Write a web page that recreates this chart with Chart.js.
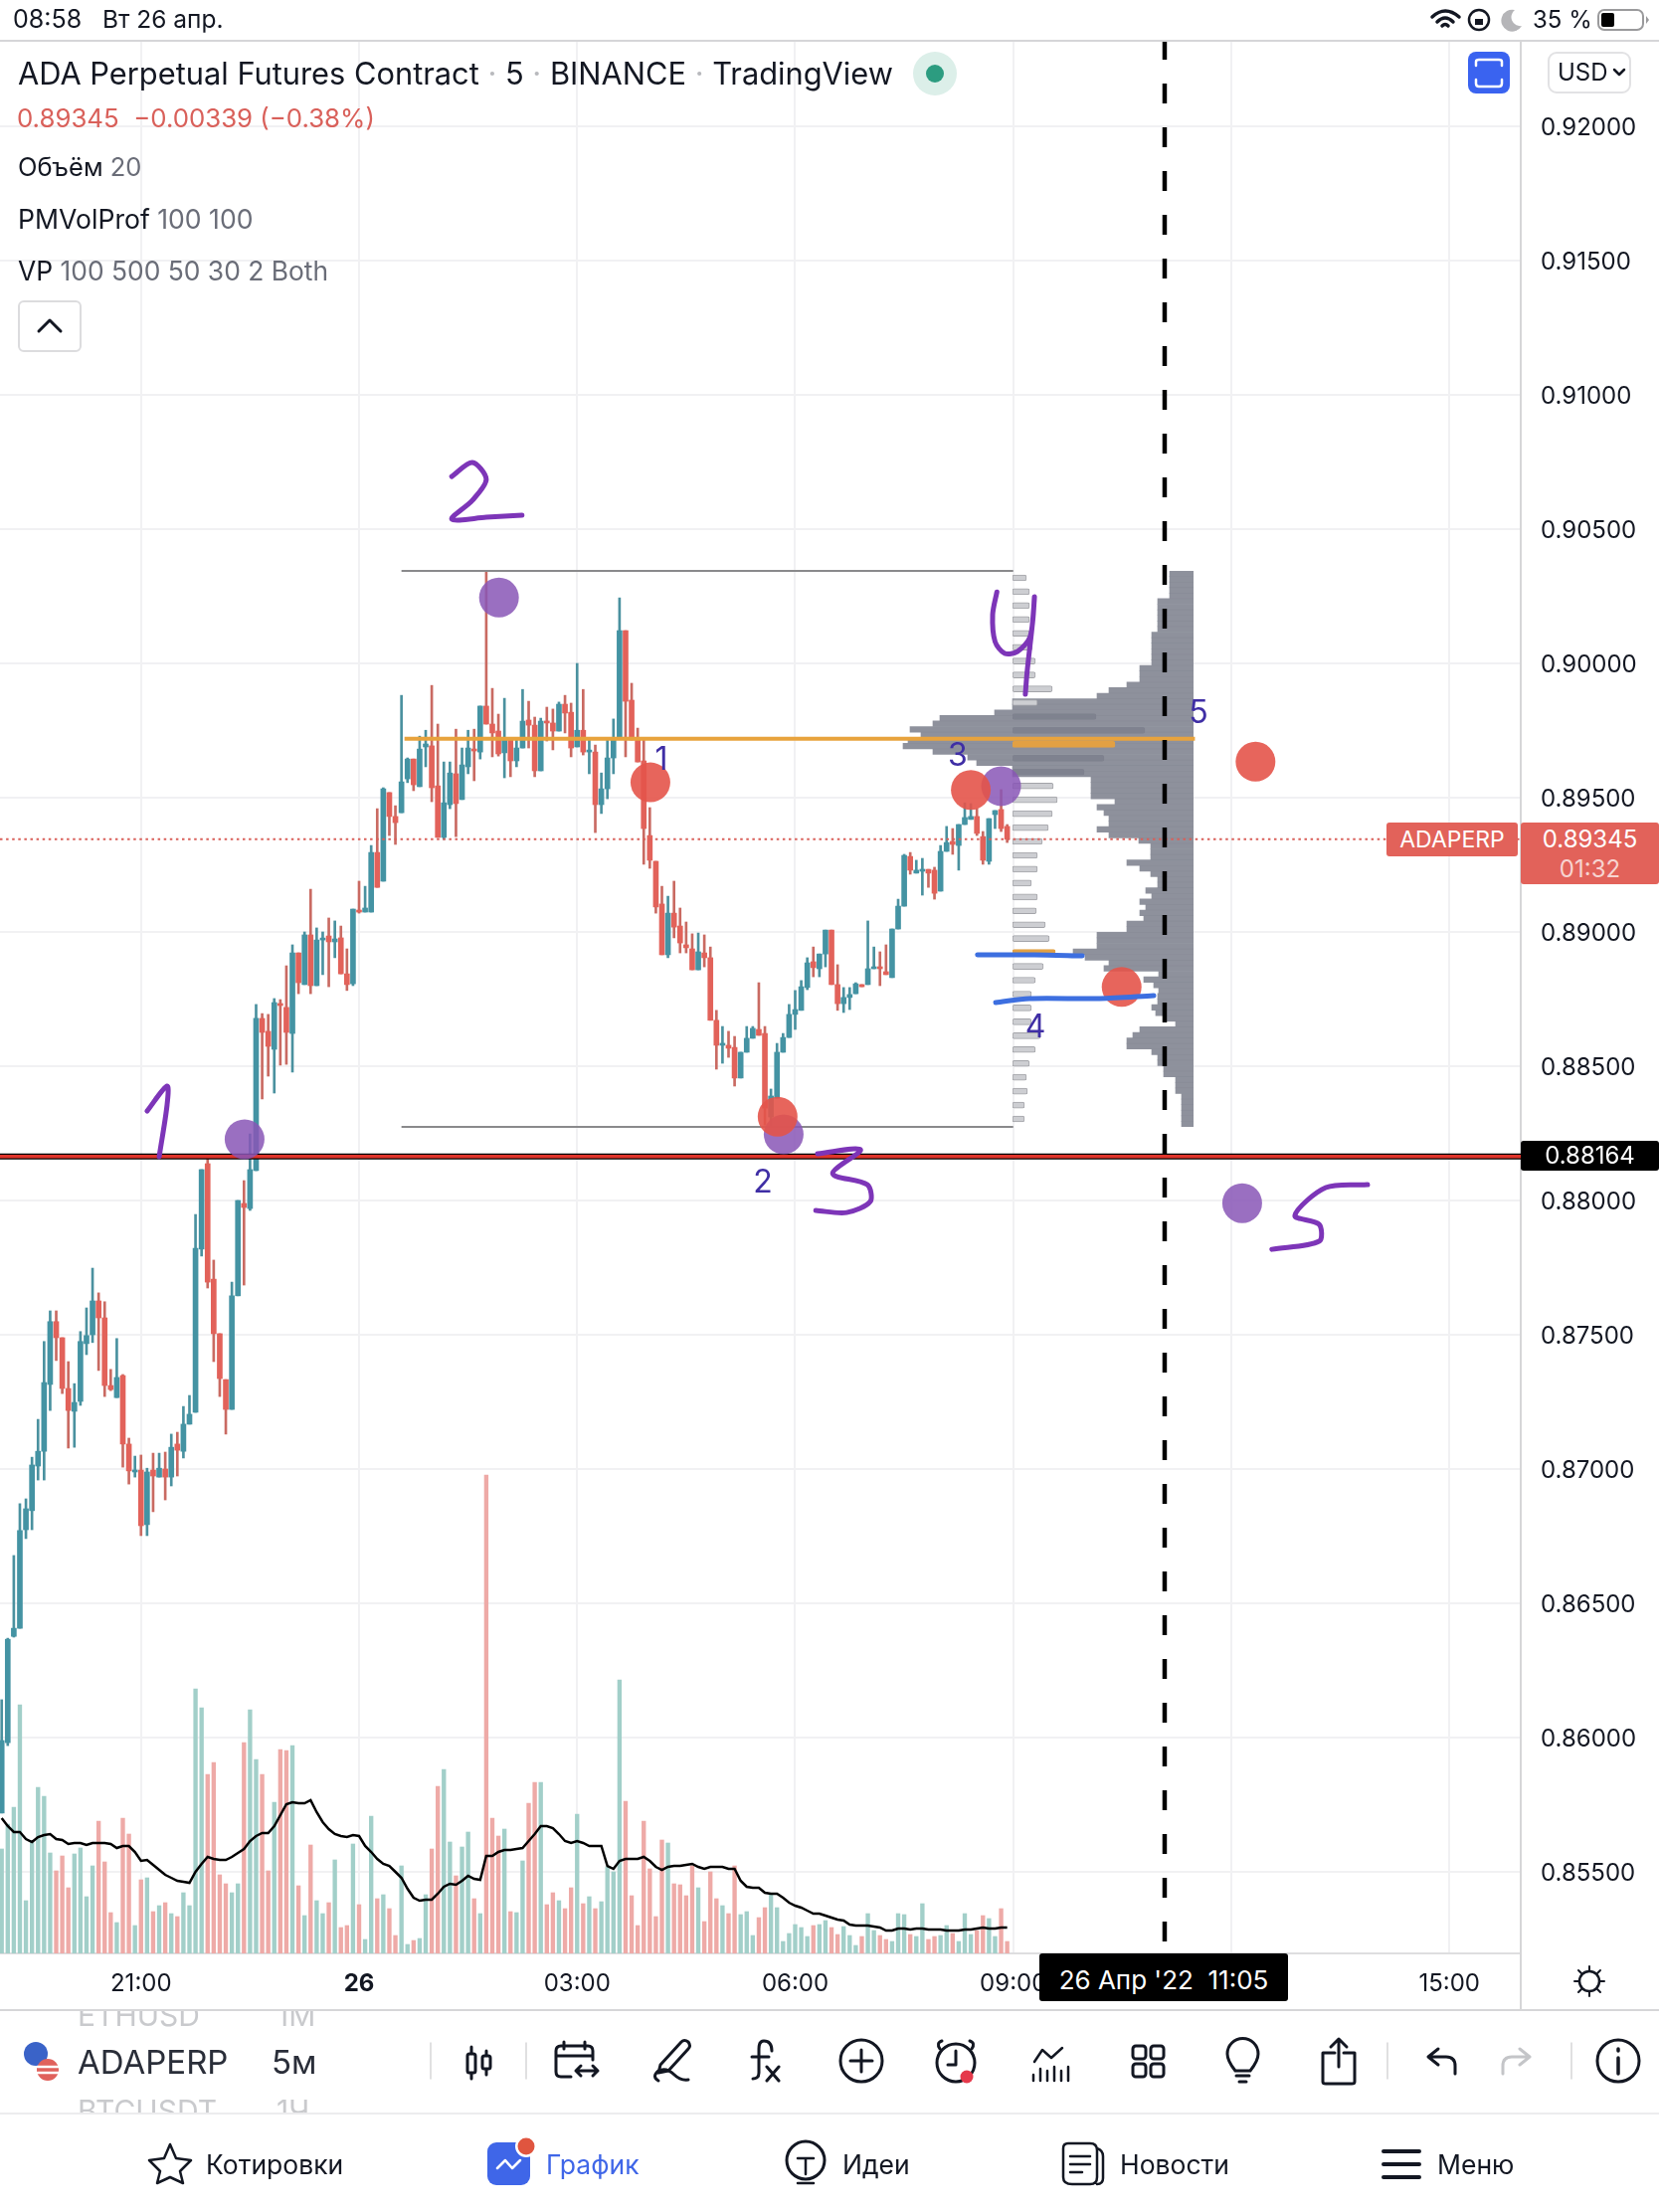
<!DOCTYPE html>
<html>
<head>
<meta charset="utf-8">
<title>ADAPERP</title>
<script src="https://cdn.jsdelivr.net/npm/chart.js@4/dist/chart.umd.js"></script>
<style>
html, body { margin: 0; padding: 0; background: #fff; }
#page { position: relative; width: 1668px; height: 2224px; overflow: hidden; font-family: Inter, "Noto Sans", sans-serif; color: #131722; }
canvas { position: absolute; display: block; }
.t { position: absolute; white-space: nowrap; transform: translateY(-50%); line-height: 1; }
.g { color: #6a6d78; }
.hl { position: absolute; left: 0; width: 1668px; height: 2px; background: #d6d6d8; }
.num { position: absolute; white-space: nowrap; transform: translate(-50%, -50%); font-size: 32px; line-height: 1; color: #3f2ea5; }
.tag { position: absolute; color: #fff; text-align: center; border-radius: 3px; }
svg { position: absolute; left: 0; top: 0; }
.fade { position: absolute; left: 0; width: 433px; height: 22px; overflow: hidden; color: #c9cacd; font-size: 30px; }
</style>
</head>
<body>
<div id="page">
<canvas id="main" width="1668" height="2224" style="left:0;top:0"></canvas>
<canvas id="profile" width="1200" height="559" style="left:0;top:574px"></canvas>
<canvas id="pills" width="160" height="558" style="left:1018px;top:574px"></canvas>
<canvas id="marks" width="1529" height="1923" style="left:0;top:41px"></canvas>

<div class="hl" style="top:40px"></div>
<div class="t" style="left:13px;top:19px;font-size:25px">08:58</div>
<div class="t" style="left:103px;top:19px;font-size:24.5px">Вт 26 апр.</div>
<div class="t" style="left:1541px;top:20px;font-size:24px">35 %</div>

<div class="t" style="left:18px;top:74px;font-size:30.8px">ADA Perpetual Futures Contract<span style="color:#b8b9bd"> · </span>5<span style="color:#b8b9bd"> · </span>BINANCE<span style="color:#b8b9bd"> · </span>TradingView</div>
<div class="t" style="left:17px;top:119px;font-size:25.8px;color:#d9605a">0.89345&nbsp; −0.00339 (−0.38%)</div>
<div class="t" style="left:18px;top:168px;font-size:25.5px">Объём <span class="g">20</span></div>
<div class="t" style="left:18px;top:220px;font-size:26.6px">PMVolProf <span class="g">100 100</span></div>
<div class="t" style="left:18px;top:272px;font-size:26.4px">VP <span class="g">100 500 50 30 2 Both</span></div>

<div class="t" style="left:1566px;top:73px;font-size:24px">USD</div>

<div class="num" style="left:665px;top:763px">1</div>
<div class="num" style="left:767px;top:1188px">2</div>
<div class="num" style="left:963px;top:759px">3</div>
<div class="num" style="left:1041px;top:1032px">4</div>
<div class="num" style="left:1205px;top:716px">5</div>

<div class="tag" style="left:1394px;top:827px;width:132px;height:34px;line-height:34px;background:#e2625a;font-size:23px">ADAPERP</div>
<div class="tag" style="left:1529px;top:827px;width:139px;height:62px;background:#e2625a;font-size:24px;line-height:30px"><div style="margin-top:2px">0.89345</div><div style="color:#f7d4d1">01:32</div></div>
<div class="tag" style="left:1529px;top:1147px;width:139px;height:30px;line-height:30px;background:#000;font-size:24px">0.88164</div>
<div class="tag" style="left:1045px;top:1964px;width:250px;height:48px;line-height:54px;background:#000;font-size:26px">26 Апр '22 &nbsp;11:05</div>

<div class="hl" style="top:2020px"></div>
<div class="fade" style="top:2022px"><span style="position:absolute;left:78px;top:-14px">ETHUSD</span><span style="position:absolute;left:278px;top:-14px">1М</span></div>
<div class="t" style="left:78px;top:2073px;font-size:33px;color:#2a2e39">ADAPERP</div>
<div class="t" style="left:273px;top:2073px;font-size:33px;color:#2a2e39">5м</div>
<div class="fade" style="top:2102px"><span style="position:absolute;left:78px;top:2px">BTCUSDT</span><span style="position:absolute;left:278px;top:2px">1Ч</span></div>
<div class="hl" style="top:2124px;background:#ececee"></div>

<div class="t" style="left:207px;top:2176px;font-size:26.5px">Котировки</div>
<div class="t" style="left:549px;top:2176px;font-size:26.5px;color:#3f66e8">График</div>
<div class="t" style="left:847px;top:2176px;font-size:26.5px">Идеи</div>
<div class="t" style="left:1126px;top:2176px;font-size:26.5px">Новости</div>
<div class="t" style="left:1445px;top:2176px;font-size:26.5px">Меню</div>

<svg width="1668" height="2224" fill="none" stroke="#131722" stroke-width="3" stroke-linecap="round" stroke-linejoin="round">
  <!-- status bar -->
  <path d="M1440 17 Q1453 5 1467 17 M1445 22 Q1453 14 1461 22 M1450 26 Q1453 23 1456 26" stroke-width="3.5"/>
  <circle cx="1487" cy="20" r="10" stroke-width="2.5"/>
  <rect x="1483" y="19" width="8" height="6" fill="#131722" stroke="none"/>
  <path d="M1530 26 A11 11 0 1 1 1523 10 A9 9 0 0 0 1530 26 Z" fill="#b5b5b8" stroke="none"/>
  <rect x="1607" y="10" width="45" height="20" rx="6" stroke="#9a9a9c" stroke-width="2"/>
  <rect x="1610" y="13" width="13" height="14" rx="2" fill="#000" stroke="none"/>
  <path d="M1655 16 L1658 20 L1655 24 Z" fill="#9a9a9c" stroke="none"/>
  <!-- header controls -->
  <circle cx="940" cy="74" r="22" fill="#dcefe9" stroke="none"/>
  <circle cx="940" cy="74" r="9" fill="#2c9c80" stroke="none"/>
  <rect x="1476" y="52" width="42" height="42" rx="8" fill="#3a63f0" stroke="none"/>
  <path d="M1484 66 V62 Q1484 60 1487 60 H1507 Q1510 60 1510 62 V66 M1484 80 V84 Q1484 87 1487 87 H1507 Q1510 87 1510 84 V80" stroke="#fff" stroke-width="2.5"/>
  <rect x="1557" y="53" width="82" height="40" rx="8" stroke="#e2e2e4" stroke-width="2"/>
  <path d="M1623 70 L1628 75 L1633 70" stroke-width="2.5"/>
  <rect x="19" y="303" width="62" height="50" rx="5" stroke="#dcdcde" stroke-width="2"/>
  <path d="M39 333 L50 322 L61 333" stroke-width="3"/>
  <!-- axis corner -->
  <path d="M1529 1964 V2020" stroke="#d6d6d8" stroke-width="2"/>
  <circle cx="1598" cy="1992" r="10" stroke-width="2.5"/>
  <path d="M1598 1977 V1981 M1598 2003 V2007 M1583 1992 H1587 M1609 1992 H1613 M1587 1981 L1590 1984 M1609 1981 L1606 1984 M1587 2003 L1590 2000 M1609 2003 L1606 2000" stroke-width="2"/>
  <!-- ticker logo -->
  <circle cx="36" cy="2065" r="12" fill="#3a63c8" stroke="none"/>
  <circle cx="48" cy="2081" r="11" fill="#e0615c" stroke="none"/>
  <path d="M38 2078 H59 M38 2084 H59" stroke="#fff" stroke-width="2.5"/>
  <!-- toolbar -->
  <path d="M433 2054 V2090 M529 2054 V2090 M1395 2054 V2090 M1580 2054 V2090" stroke="#d6d6d8" stroke-width="1.5"/>
  <path d="M474 2058 V2090 M489 2062 V2086"/>
  <rect x="470" y="2065" width="8" height="19" rx="2" fill="#fff"/>
  <rect x="485" y="2067" width="8" height="13" rx="2" fill="#fff"/>
  <path d="M574 2088 H564 Q559 2088 559 2083 V2062 Q559 2057 564 2057 H591 Q596 2057 596 2062 V2071 M559 2067 H596 M567 2053 V2060 M588 2053 V2060 M579 2082 H601 M584 2077 L579 2082 L584 2087 M596 2077 L601 2082 L596 2087"/>
  <path d="M664 2076 L685 2053 Q688 2050 692 2053 Q695 2057 692 2060 L672 2082 L662 2084 Z M662 2092 Q655 2088 662 2082 Q670 2078 678 2086 Q684 2092 692 2091"/>
  <path d="M776 2062 Q776 2052 768 2052 Q763 2052 763 2060 V2084 Q763 2090 757 2090 M756 2068 H773 M771 2078 L783 2092 M783 2078 L771 2092"/>
  <circle cx="866" cy="2072" r="21"/>
  <path d="M855 2072 H877 M866 2061 V2083"/>
  <circle cx="961" cy="2074" r="19"/>
  <path d="M961 2062 V2076 H953 M945 2060 Q941 2054 947 2052 M977 2060 Q981 2054 975 2052"/>
  <circle cx="972" cy="2088" r="6.5" fill="#e5394b" stroke="none"/>
  <path d="M1040 2073 L1048 2061 L1057 2069 L1068 2059 M1039 2092 V2086 M1046 2092 V2080 M1053 2092 V2082 M1060 2092 V2078 M1067 2092 V2082 M1074 2092 V2078" stroke-width="2.5"/>
  <rect x="1139" y="2057" width="13" height="13" rx="3"/><rect x="1157" y="2057" width="13" height="13" rx="3"/>
  <rect x="1139" y="2075" width="13" height="13" rx="3"/><rect x="1157" y="2075" width="13" height="13" rx="3"/>
  <path d="M1242 2082 Q1234 2072 1234 2065 A15.5 15.5 0 0 1 1265 2065 Q1265 2072 1257 2082 Z M1243 2087 H1256 M1246 2093 H1253"/>
  <path d="M1342 2064 H1330 V2093 Q1330 2095 1333 2095 H1359 Q1362 2095 1362 2093 V2064 H1351 M1346 2078 V2050 M1338 2058 L1346 2050 L1354 2058"/>
  <path d="M1463 2085 V2077 Q1463 2068 1454 2068 H1436 M1446 2060 L1436 2068 L1446 2076"/>
  <path d="M1511 2085 V2077 Q1511 2068 1520 2068 H1538 M1528 2060 L1538 2068 L1528 2076" stroke="#c4c5c8"/>
  <circle cx="1627" cy="2072" r="21"/>
  <path d="M1627 2069 V2085 M1627 2060 V2062" stroke-width="3.5"/>
  <!-- tab bar -->
  <path d="M171 2156 L177 2170 L192 2172 L181 2183 L184 2195 L171 2189 L158 2195 L161 2183 L150 2172 L165 2170 Z" stroke-width="2.5"/>
  <rect x="490" y="2154" width="43" height="43" rx="9" fill="#3f66e8" stroke="none"/>
  <path d="M500 2180 L508 2172 L515 2180 L523 2172" stroke="#fff" stroke-width="2.5"/>
  <circle cx="529" cy="2158" r="11" fill="#fff" stroke="none"/>
  <circle cx="529" cy="2158" r="8.5" fill="#e0553f" stroke="none"/>
  <circle cx="810" cy="2172" r="19"/>
  <path d="M802 2170 H818 M810 2170 V2186 M802 2195 H818" stroke-width="2.5"/>
  <path d="M1074 2155 H1096 Q1103 2155 1103 2162 V2189 Q1103 2196 1096 2196 H1078 Q1069 2196 1069 2189 V2160 Q1069 2155 1074 2155 Z M1103 2160 Q1109 2162 1109 2168 V2190 Q1109 2196 1103 2196 M1076 2168 H1096 M1076 2176 H1096 M1076 2184 H1088" stroke-width="2.5"/>
  <path d="M1391 2163 H1427 M1391 2176 H1427 M1391 2189 H1427" stroke-width="4"/>
</svg>
</div>

<script>
// OHLC values, one entry per 5 minute bar
var opens = [0.85719,0.85981,0.86377,0.86407,0.86774,0.86845,0.87011,0.87066,0.87315,0.87549,
  0.87489,0.87300,0.87215,0.87252,0.87467,0.87500,0.87626,0.87563,0.87311,0.87266,
  0.87348,0.87093,0.86989,0.86996,0.86793,0.86996,0.86970,0.87000,0.86970,0.87093,
  0.87066,0.87167,0.87211,0.87819,0.88137,0.87707,0.87504,0.87333,0.87222,0.87645,
  0.87989,0.87970,0.88111,0.88678,0.88630,0.88563,0.88733,0.88719,0.88622,0.88922,
  0.88804,0.88989,0.88800,0.88970,0.88985,0.88963,0.88978,0.88844,0.88807,0.89081,
  0.89074,0.89074,0.89296,0.89189,0.89519,0.89430,0.89444,0.89570,0.89644,0.89541,
  0.89689,0.89693,0.89544,0.89352,0.89474,0.89589,0.89493,0.89615,0.89678,0.89670,
  0.89841,0.89774,0.89748,0.89667,0.89722,0.89637,0.89685,0.89789,0.89770,0.89600,
  0.89785,0.89778,0.89748,0.89848,0.89818,0.89689,0.89751,0.89670,0.89670,0.89474,
  0.89533,0.89648,0.89718,0.90122,0.89863,0.89715,0.89637,0.89359,0.89263,0.89104,
  0.88915,0.89070,0.89022,0.88952,0.88937,0.88859,0.88922,0.88904,0.88671,0.88578,
  0.88578,0.88570,0.88456,0.88552,0.88604,0.88637,0.88622,0.88311,0.88381,0.88552,
  0.88607,0.88693,0.88708,0.88793,0.88889,0.88863,0.88918,0.89007,0.88804,0.88733,
  0.88756,0.88770,0.88804,0.88804,0.88863,0.88870,0.88852,0.88830,0.89011,0.89096,
  0.89281,0.89219,0.89226,0.89233,0.89230,0.89152,0.89300,0.89337,0.89322,0.89400,
  0.89419,0.89430,0.89355,0.89263,0.89437,0.89456,0.89393];
var highs = [0.86141,0.86370,0.86678,0.86871,0.86889,0.87044,0.87185,0.87475,0.87589,0.87589,
  0.87489,0.87400,0.87318,0.87512,0.87600,0.87748,0.87656,0.87623,0.87371,0.87486,
  0.87352,0.87115,0.87048,0.87052,0.87003,0.87059,0.87059,0.87063,0.87130,0.87137,
  0.87233,0.87274,0.87948,0.88115,0.88170,0.87778,0.87504,0.87333,0.87696,0.88000,
  0.88074,0.88248,0.88730,0.88696,0.88693,0.88752,0.88748,0.88874,0.88952,0.88922,
  0.89000,0.89159,0.89015,0.89000,0.89052,0.89041,0.89022,0.88937,0.89085,0.89189,
  0.89170,0.89322,0.89459,0.89537,0.89519,0.89470,0.89881,0.89648,0.89644,0.89729,
  0.89751,0.89918,0.89774,0.89633,0.89633,0.89755,0.89685,0.89751,0.89755,0.89841,
  0.90344,0.89907,0.89811,0.89870,0.89722,0.89722,0.89903,0.89859,0.89800,0.89796,
  0.89837,0.89830,0.89856,0.89881,0.89852,0.90000,0.89903,0.89718,0.89696,0.89592,
  0.89715,0.89793,0.90244,0.90122,0.89926,0.89759,0.89718,0.89463,0.89263,0.89170,
  0.89133,0.89189,0.89089,0.89037,0.88993,0.88996,0.88989,0.88944,0.88708,0.88648,
  0.88630,0.88611,0.88552,0.88648,0.88648,0.88811,0.88648,0.88415,0.88585,0.88622,
  0.88730,0.88782,0.88819,0.88904,0.88944,0.88918,0.89007,0.89007,0.88878,0.88793,
  0.88793,0.88811,0.88804,0.89041,0.88944,0.88926,0.88952,0.89011,0.89122,0.89289,
  0.89296,0.89267,0.89274,0.89233,0.89241,0.89322,0.89393,0.89385,0.89400,0.89481,
  0.89478,0.89459,0.89374,0.89422,0.89452,0.89530,0.89400];
var lows = [0.85719,0.85970,0.86374,0.86407,0.86741,0.86774,0.86959,0.86959,0.87218,0.87404,
  0.87281,0.87078,0.87081,0.87237,0.87426,0.87471,0.87367,0.87270,0.87292,0.87266,
  0.87007,0.86944,0.86970,0.86752,0.86752,0.86841,0.86970,0.86885,0.86937,0.86974,
  0.87041,0.87167,0.87211,0.87793,0.87674,0.87400,0.87270,0.87130,0.87222,0.87645,
  0.87685,0.87963,0.88111,0.88378,0.88463,0.88400,0.88504,0.88507,0.88478,0.88770,
  0.88804,0.88770,0.88800,0.88841,0.88796,0.88904,0.88844,0.88782,0.88800,0.89070,
  0.89074,0.89074,0.89166,0.89189,0.89359,0.89326,0.89444,0.89556,0.89526,0.89541,
  0.89615,0.89485,0.89352,0.89344,0.89459,0.89355,0.89493,0.89589,0.89563,0.89644,
  0.89774,0.89652,0.89655,0.89574,0.89578,0.89615,0.89685,0.89685,0.89578,0.89600,
  0.89711,0.89678,0.89748,0.89741,0.89652,0.89689,0.89659,0.89589,0.89370,0.89441,
  0.89496,0.89589,0.89718,0.89652,0.89715,0.89633,0.89252,0.89237,0.89070,0.88915,
  0.88904,0.88978,0.88922,0.88922,0.88859,0.88859,0.88870,0.88671,0.88489,0.88511,
  0.88533,0.88426,0.88456,0.88552,0.88604,0.88615,0.88281,0.88274,0.88381,0.88552,
  0.88607,0.88637,0.88708,0.88785,0.88833,0.88833,0.88870,0.88804,0.88708,0.88700,
  0.88711,0.88770,0.88796,0.88804,0.88863,0.88800,0.88841,0.88830,0.89011,0.89096,
  0.89215,0.89219,0.89137,0.89166,0.89122,0.89152,0.89300,0.89289,0.89230,0.89400,
  0.89419,0.89359,0.89252,0.89252,0.89385,0.89374,0.89333];
var closes = [0.85989,0.86366,0.86407,0.86771,0.86852,0.87015,0.87066,0.87322,0.87549,0.87489,
  0.87300,0.87218,0.87248,0.87475,0.87497,0.87626,0.87563,0.87311,0.87296,0.87341,
  0.87093,0.86993,0.86993,0.86789,0.86989,0.86974,0.87003,0.86970,0.87081,0.87070,
  0.87167,0.87204,0.87822,0.88115,0.87696,0.87504,0.87337,0.87222,0.87645,0.88000,
  0.87974,0.88115,0.88678,0.88626,0.88574,0.88737,0.88726,0.88626,0.88922,0.88811,
  0.88989,0.88800,0.88970,0.88974,0.88963,0.88974,0.88844,0.88804,0.89085,0.89074,
  0.89089,0.89296,0.89166,0.89533,0.89430,0.89407,0.89559,0.89644,0.89548,0.89681,
  0.89700,0.89537,0.89352,0.89481,0.89592,0.89478,0.89622,0.89685,0.89674,0.89841,
  0.89774,0.89741,0.89663,0.89722,0.89637,0.89685,0.89785,0.89770,0.89600,0.89785,
  0.89778,0.89748,0.89848,0.89815,0.89685,0.89751,0.89670,0.89674,0.89474,0.89533,
  0.89648,0.89718,0.90122,0.89859,0.89715,0.89633,0.89385,0.89267,0.89093,0.88915,
  0.89070,0.89018,0.88959,0.88941,0.88859,0.88926,0.88904,0.88671,0.88578,0.88582,
  0.88567,0.88456,0.88552,0.88604,0.88641,0.88615,0.88344,0.88389,0.88552,0.88607,
  0.88693,0.88711,0.88796,0.88885,0.88867,0.88918,0.89007,0.88804,0.88733,0.88756,
  0.88767,0.88807,0.88796,0.88863,0.88867,0.88863,0.88841,0.89011,0.89096,0.89285,
  0.89230,0.89230,0.89230,0.89219,0.89144,0.89300,0.89333,0.89326,0.89400,0.89426,
  0.89430,0.89367,0.89267,0.89422,0.89452,0.89385,0.89345];

var volumes = [105,130,147,250,53,112,167,158,101,83,
  98,66,100,106,57,88,133,92,41,31,
  136,120,28,74,76,42,48,51,40,37,
  61,48,266,247,180,192,79,70,61,70,
  212,245,195,180,83,152,205,204,209,68,
  38,109,53,40,51,94,26,28,110,49,
  14,138,55,59,45,18,88,9,13,15,
  59,105,168,185,112,78,107,122,55,40,
  481,136,118,125,42,41,93,151,172,172,
  49,61,53,45,66,140,50,57,45,52,
  87,82,275,153,58,28,133,85,37,114,
  111,70,69,58,88,66,32,82,55,48,
  40,88,39,42,18,36,46,60,46,12,
  20,29,26,17,28,29,33,26,19,27,
  18,8,17,40,23,18,14,12,40,39,
  19,17,50,14,17,18,28,20,12,40,
  19,23,38,35,17,45,12];
var volumeAverage = [136,128,122,122,115,112,117,119,120,115,
  114,110,111,111,109,111,111,111,110,106,
  108,108,102,93,94,89,84,79,76,73,
  72,71,82,90,97,95,94,94,97,101,
  105,113,118,121,121,128,139,150,152,151,
  151,154,142,132,125,120,118,117,119,118,
  108,102,95,90,88,82,76,65,56,53,
  54,54,60,67,70,69,73,78,75,74,
  98,98,102,104,104,105,106,113,120,128,
  128,126,120,113,111,113,111,108,108,108,
  88,85,93,95,95,95,97,93,87,84,
  87,88,88,89,90,87,85,87,87,87,
  85,85,73,67,66,66,61,60,60,56,
  51,48,46,43,40,40,38,36,34,33,
  29,28,28,28,27,26,23,23,25,25,
  24,25,25,24,24,24,23,23,23,24,
  24,25,26,25,25,26,26];

// VP rows from the top of the range down
var vpVolumes = [24,24,24,24,24,36,36,36,36,36,
  36,42,42,42,42,42,42,54,54,54,
  67,85,97,182,182,200,255,262,285,274,
  287,292,262,227,218,182,182,103,103,103,
  103,79,97,90,85,85,97,85,55,43,
  43,43,67,54,43,36,36,48,42,54,
  48,54,50,67,67,97,97,97,121,109,
  85,90,35,50,40,35,36,36,42,38,
  28,18,54,61,67,67,42,36,36,30,
  30,18,18,18,12,12,12,12,12,12];
// PMVolProf rows from the top of the range down
var pillVolumes = [14,17,17,17,17,20,23,23,40,25,
  84,133,103,92,72,41,45,40,36,30,
  25,25,19,25,24,33,37,43,31,23,
  19,19,19,28,23,17,14,15,12,12];
var pillDarkRows = [10,11,13,14];
var pillPocRows = [12,27];

var priceTicks = [0.92,0.915,0.91,0.905,0.9,0.895,0.89,0.885,0.88,0.875,0.87,0.865,0.86,0.855];
var priceTickLabels = ['0.92000','0.91500','0.91000','0.90500','0.90000','0.89500','0.89000','0.88500','0.88000','0.87500','0.87000','0.86500','0.86000','0.85500'];
var timeTicks = [23,59,95,131,167,203,239];
var timeTickLabels = ['21:00','26','03:00','06:00','09:00','','15:00'];

var lastPrice = 0.89345;
var linePrice = 0.88164;
var pocPrice = 0.89719;
var rangeHigh = 0.90344;
var rangeLow = 0.88274;
var cursorBar = 192;

var purpleDots = [{x:82.1,y:0.90245},{x:165,y:0.89543},{x:129.1,y:0.88246},{x:40.1,y:0.88228},{x:204.8,y:0.8799}];
var redDots = [{x:107.1,y:0.89557},{x:160,y:0.89529},{x:128.1,y:0.88312},{x:184.9,y:0.88795},{x:207,y:0.89634}];

var strokeOne = [{x:24,y:0.88333},{x:27.3,y:0.88426},{x:27.3,y:0.88355},{x:26,y:0.88163}];
var strokeTwo = [{x:74.3,y:0.90696},{x:77.7,y:0.90748},{x:80,y:0.90685},{x:77.7,y:0.90607},{x:74.3,y:0.90537},{x:80,y:0.90544},{x:85.9,y:0.90552}];
var strokeThree = [{x:134.7,y:0.88174},{x:141.8,y:0.88189},{x:137.2,y:0.881},{x:142.9,y:0.88059},{x:143.4,y:0.87996},{x:139.5,y:0.87955},{x:134.4,y:0.87963}];
var strokeFour = [{x:164.3,y:0.90266},{x:163.6,y:0.90181},{x:164,y:0.90081},{x:165.6,y:0.90037},{x:167.7,y:0.90044},{x:169.8,y:0.901},{x:170.5,y:0.90248},{x:170.2,y:0.90155},{x:169.3,y:0.8997},{x:169,y:0.89885}];
var strokeFive = [{x:225.5,y:0.88059},{x:218.6,y:0.88048},{x:213.5,y:0.87944},{x:217.5,y:0.87911},{x:217.5,y:0.87848},{x:209.7,y:0.87818}];
var blueTop = [{x:161.1,y:0.88915},{x:170.5,y:0.88915},{x:178.4,y:0.88911}];
var blueBottom = [{x:164.1,y:0.88737},{x:169.7,y:0.88752},{x:181.3,y:0.88752},{x:190.2,y:0.88763}];

var BAR_MIN = -0.28, BAR_MAX = 250.79;
var PRICE_MIN = 0.851963, PRICE_MAX = 0.923185;

var TEAL = '#4493a3', RED = '#e2625a';
var TEAL_WICK = '#4a919f', RED_WICK = '#c96a62';
var TEAL_VOL = '#a2cfc9', RED_VOL = '#eeaaa7';
var GRID = '#f1f1f3';

function isUp(i) { return closes[i] >= opens[i]; }

var wickData = opens.map(function (o, i) { return { x: i, y: [lows[i], highs[i]] }; });
var bodyData = opens.map(function (o, i) { return { x: i, y: [o, closes[i]] }; });
var volumeData = volumes.map(function (v, i) { return { x: i, y: v }; });
var averageData = volumeAverage.map(function (v, i) { return { x: i, y: v }; });

function pickColors(up, down) {
    return opens.map(function (o, i) { return isUp(i) ? up : down; });
}

Chart.defaults.animation = false;
Chart.defaults.font.family = 'Inter, "Noto Sans", sans-serif';

new Chart(document.getElementById('main'), {
    type: 'bar',
    data: {
        datasets: [
            { type: 'bar', data: bodyData, backgroundColor: pickColors(TEAL, RED), barThickness: 5, minBarLength: 2, grouped: false, order: 1, yAxisID: 'y' },
            { type: 'bar', data: wickData, backgroundColor: pickColors(TEAL_WICK, RED_WICK), barThickness: 2, grouped: false, order: 2, yAxisID: 'y' },
            { type: 'line', data: averageData, borderColor: '#000', borderWidth: 2.5, pointRadius: 0, tension: 0, order: 3, yAxisID: 'vol' },
            { type: 'bar', data: volumeData, backgroundColor: pickColors(TEAL_VOL, RED_VOL), barThickness: 3.7, grouped: false, order: 4, yAxisID: 'vol' }
        ]
    },
    options: {
        responsive: false,
        maintainAspectRatio: false,
        layout: { autoPadding: false, padding: { left: 0, right: 0, top: 41, bottom: 200 } },
        plugins: { legend: { display: false }, tooltip: { enabled: false } },
        scales: {
            x: {
                type: 'linear',
                min: BAR_MIN,
                max: BAR_MAX,
                offset: false,
                grid: { color: GRID, lineWidth: 2, drawTicks: false, offset: false },
                border: { display: true, color: '#dedee0', width: 2 },
                afterBuildTicks: function (scale) {
                    scale.ticks = timeTicks.map(function (v) { return { value: v }; });
                },
                afterFit: function (scale) { scale.height = 60; },
                ticks: {
                    autoSkip: false,
                    maxRotation: 0,
                    padding: 16,
                    color: '#131722',
                    font: function (ctx) {
                        return { size: 24, weight: ctx.index === 1 ? 'bold' : 'normal' };
                    },
                    callback: function (value, index) { return timeTickLabels[index]; }
                }
            },
            y: {
                type: 'linear',
                position: 'right',
                min: PRICE_MIN,
                max: PRICE_MAX,
                grid: { color: GRID, lineWidth: 2, drawTicks: false },
                border: { display: true, color: '#d6d6d8', width: 2 },
                afterBuildTicks: function (scale) {
                    scale.ticks = priceTicks.map(function (v) { return { value: v }; });
                },
                afterFit: function (scale) { scale.width = 139; },
                ticks: {
                    autoSkip: false,
                    padding: 20,
                    labelOffset: 2,
                    color: '#131722',
                    font: { size: 24 },
                    callback: function (value, index) { return priceTickLabels[index]; }
                }
            },
            vol: { type: 'linear', display: false, min: 0, max: 1923 }
        }
    }
});

// profile bars hang off the right hand edge of their canvas
new Chart(document.getElementById('profile'), {
    type: 'bar',
    data: {
        labels: vpVolumes.map(function (v, i) { return i; }),
        datasets: [{ data: vpVolumes, backgroundColor: 'rgba(136,139,151,0.95)', barPercentage: 1, categoryPercentage: 1 }]
    },
    options: {
        indexAxis: 'y',
        responsive: false,
        maintainAspectRatio: false,
        layout: { autoPadding: false, padding: 0 },
        plugins: { legend: { display: false }, tooltip: { enabled: false } },
        scales: {
            x: { display: false, min: 0, max: 1200, reverse: true },
            y: { display: false }
        }
    }
});

new Chart(document.getElementById('pills'), {
    type: 'bar',
    data: {
        labels: pillVolumes.map(function (v, i) { return i; }),
        datasets: [{
            data: pillVolumes,
            backgroundColor: pillVolumes.map(function (v, i) {
                if (pillPocRows.indexOf(i) >= 0) return '#e2a043';
                if (pillDarkRows.indexOf(i) >= 0) return '#7f828f';
                return '#cdced2';
            }),
            borderColor: pillVolumes.map(function (v, i) {
                if (pillPocRows.indexOf(i) >= 0) return '#e2a043';
                if (pillDarkRows.indexOf(i) >= 0) return '#7f828f';
                return '#a3a4a9';
            }),
            borderWidth: 1,
            borderRadius: 2,
            borderSkipped: false,
            barThickness: 6
        }]
    },
    options: {
        indexAxis: 'y',
        responsive: false,
        maintainAspectRatio: false,
        layout: { autoPadding: false, padding: 0 },
        plugins: { legend: { display: false }, tooltip: { enabled: false } },
        scales: {
            x: { display: false, min: 0, max: 160 },
            y: { display: false }
        }
    }
});

function hline(price, from, to, color, width, dash) {
    return { data: [{ x: from, y: price }, { x: to, y: price }], borderColor: color, borderWidth: width, borderDash: dash || [], pointRadius: 0 };
}

function handStroke(points, color) {
    return { data: points, borderColor: color, borderWidth: 5, borderCapStyle: 'round', borderJoinStyle: 'round', tension: 0.3, pointRadius: 0 };
}

function dots(points, color) {
    return { data: points, showLine: false, pointRadius: 20, pointHoverRadius: 20, pointBorderWidth: 0, pointBackgroundColor: color, clip: false };
}

var HAND = '#7d35b8', BLUE = '#3d6fe0';

// first dataset in the list ends up on top
new Chart(document.getElementById('marks'), {
    type: 'line',
    data: {
        datasets: [
            handStroke(strokeOne, HAND),
            handStroke(strokeTwo, HAND),
            handStroke(strokeThree, HAND),
            handStroke(strokeFour, HAND),
            handStroke(strokeFive, HAND),
            handStroke(blueTop, BLUE),
            handStroke(blueBottom, BLUE),
            dots(redDots, 'rgba(228,84,74,0.9)'),
            dots(purpleDots, 'rgba(136,86,182,0.85)'),
            hline(linePrice, BAR_MIN, BAR_MAX, '#e0342b', 3.5),
            hline(linePrice, BAR_MIN, BAR_MAX, '#000', 6),
            { data: [{ x: cursorBar, y: PRICE_MAX }, { x: cursorBar, y: PRICE_MIN }], borderColor: '#000', borderWidth: 4.5, borderDash: [20, 24], borderDashOffset: 1, pointRadius: 0 },
            hline(pocPrice, 66.5, 197, '#e8a33d', 4),
            hline(lastPrice, BAR_MIN, BAR_MAX, '#d9605a', 2, [2.5, 3.6]),
            hline(rangeHigh, 66, 167, '#8a8a8c', 2),
            hline(rangeLow, 66, 167, '#8a8a8c', 2)
        ]
    },
    options: {
        responsive: false,
        maintainAspectRatio: false,
        layout: { autoPadding: false, padding: 0 },
        plugins: { legend: { display: false }, tooltip: { enabled: false } },
        scales: {
            x: { type: 'linear', display: false, min: BAR_MIN, max: BAR_MAX },
            y: { type: 'linear', display: false, min: PRICE_MIN, max: PRICE_MAX }
        }
    }
});
</script>
</body>
</html>
